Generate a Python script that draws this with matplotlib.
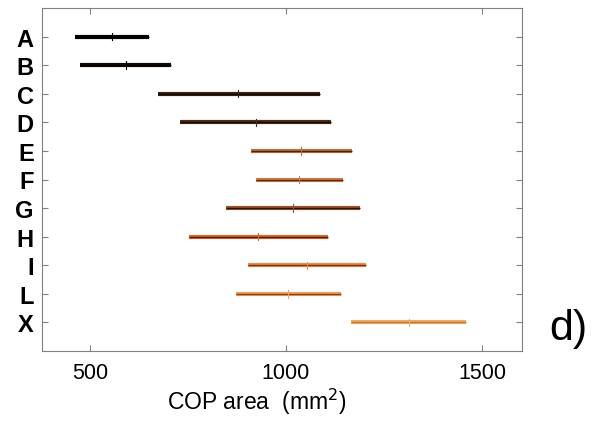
import matplotlib.pyplot as plt

groups = ['A', 'B', 'C', 'D', 'E', 'F', 'G', 'H', 'I', 'L', 'X']
lower = [461, 475, 673, 731, 910, 923, 847, 753, 903, 873, 1165]
means = [557, 591, 879, 923, 1039, 1034, 1017, 928, 1054, 1006, 1314]
upper = [652, 706, 1087, 1114, 1168, 1146, 1190, 1107, 1205, 1141, 1459]

edge_colors = ['#000000', '#140a04', '#3c2214', '#4e2c18', '#c0703f', '#cc7c4c',
               '#9a5430', '#e0662a', '#f08a4c', '#eea060', '#e6ae6a']
core_colors = ['#000000', '#000000', '#0a0502', '#140a04', '#4a2210', '#5a2c14',
               '#2a1408', '#4a2410', '#7a3414', '#8a4218', '#c47a34']

fig = plt.figure(figsize=(5.95, 4.27), dpi=100)
ax = fig.add_axes([42 / 595, 1 - 352 / 427, 480 / 595, 343 / 427])

pos = list(range(1, len(groups) + 1))
for y, lo, m, hi, ec, cc in zip(pos, lower, means, upper, edge_colors, core_colors):
    ax.plot([lo, hi], [y, y], color=ec, lw=3.0, solid_capstyle='butt')
    ax.plot([lo, hi], [y, y], color=cc, lw=1.0, solid_capstyle='butt')
    ax.plot([m, m], [y - 0.13, y + 0.13], color=ec, lw=0.8)

ax.set_xlim(378, 1602)
ax.set_ylim(12, 0)
ax.set_xticks([500, 1000, 1500])
ax.set_yticks(pos)
ax.set_yticklabels(groups, fontfamily='Liberation Sans', fontweight='bold', fontsize=17)
for lab in ax.get_xticklabels():
    lab.set_fontfamily('Liberation Sans')
    lab.set_fontsize(15.5)

ax.tick_params(direction='in', top=True, right=True, color='#808080', length=4)
ax.tick_params(axis='y', pad=6)
ax.tick_params(axis='x', pad=8)
for s in ax.spines.values():
    s.set_color('#808080')

fig.text(257 / 595, 1 - 402 / 427, 'COP area  (mm$^2$)', ha='center', va='center',
         fontfamily='Liberation Sans', fontsize=16.5)
fig.text(568 / 595, 1 - 329 / 427, 'd)', ha='center', va='center',
         fontfamily='Liberation Sans', fontsize=31)

fig.savefig('out.png', dpi=100)
